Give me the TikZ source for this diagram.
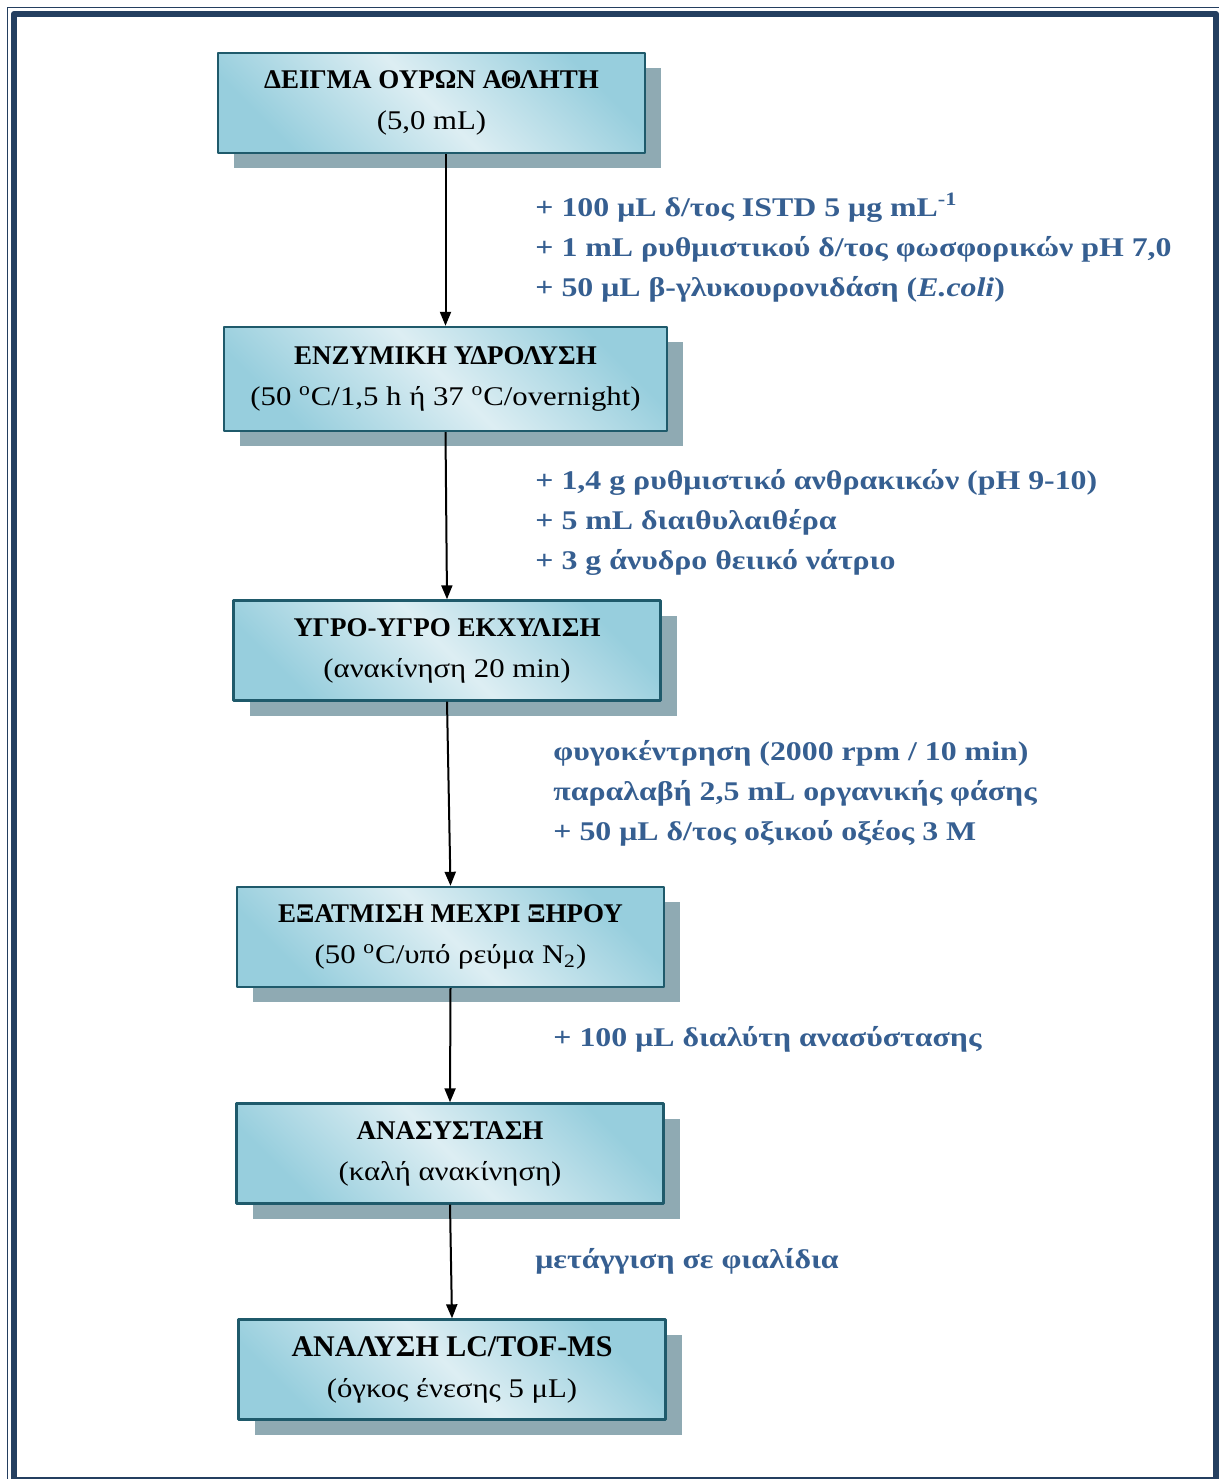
\documentclass[tikz,border=0pt]{standalone}
\usepackage{fontspec}
\setmainfont{Liberation Serif}
\newfontfamily\stepfont[FakeStretch=1.14]{Liberation Serif}
\newfontfamily\notefont[FakeStretch=1.18]{Liberation Serif}
\usetikzlibrary{arrows.meta,shadows}
\definecolor{framebl}{HTML}{243F60}
\definecolor{boxedge}{HTML}{1F5A6B}
\definecolor{boxlight}{HTML}{DDEEF3}
\definecolor{boxdark}{HTML}{97CEDD}
\definecolor{shadowgr}{HTML}{8FAAB3}
\definecolor{noteblue}{HTML}{365F91}
\newcommand{\steptitle}[1]{{\rmfamily\bfseries #1}}
\begin{document}
\begin{tikzpicture}[x=0.5pt, y=-0.5pt, line join=round, >={Triangle[length=7pt,width=5.5pt]},
	stepbox/.style={draw=boxedge, line width=1.2pt, top color=boxdark, bottom color=boxdark, middle color=boxlight, shading angle=-45,
		minimum width=213.5pt, minimum height=50pt, inner sep=0pt, align=center, font=\stepfont\fontsize{13.5}{20.5}\selectfont,
		drop shadow={shadow xshift=8pt, shadow yshift=-7.5pt, fill=shadowgr, opacity=1}},
	addnote/.style={anchor=base west, align=left, inner sep=0pt, text=noteblue, font=\notefont\bfseries\fontsize{13.5}{20}\selectfont}]
	\useasboundingbox (0,0) rectangle (1219,1479);
	% page frame
	\draw[framebl, line width=0.75pt] (7.5,7.5) rectangle (1223,1486);
	\draw[framebl, line width=3pt] (14,14) rectangle (1216,1480);
	% steps
	\node[stepbox] (b1) at (431.5,103) {\steptitle{ΔΕΙΓΜΑ ΟΥΡΩΝ ΑΘΛΗΤΗ}\\(5,0 mL)};
	\node[stepbox, minimum width=221.5pt, minimum height=52pt] (b2) at (445.5,379) {\steptitle{ΕΝΖΥΜΙΚΗ ΥΔΡΟΛΥΣΗ}\\(50 \textsuperscript{o}C/1,5 h ή 37 \textsuperscript{o}C/overnight)};
	\node[stepbox] (b3) at (447,650.5) {\steptitle{ΥΓΡΟ-ΥΓΡΟ ΕΚΧΥΛΙΣΗ}\\(ανακίνηση 20 min)};
	\node[stepbox] (b4) at (450.5,937) {\steptitle{ΕΞΑΤΜΙΣΗ ΜΕΧΡΙ ΞΗΡΟΥ}\\(50 \textsuperscript{o}C/υπό ρεύμα N\textsubscript{2})};
	\node[stepbox] (b5) at (450,1153.5) {\steptitle{ΑΝΑΣΥΣΤΑΣΗ}\\(καλή ανακίνηση)};
	\node[stepbox] (b6) at (452,1369.5) {{\fontsize{15}{21}\selectfont\steptitle{ΑΝΑΛΥΣΗ LC/TOF-MS}}\\(όγκος ένεσης 5 μL)};
	% additions (base = last line)
	\node[addnote] (n1) at (535,296) {+ 100 μL δ/τος ISTD 5 μg mL\textsuperscript{-1}\\+ 1 mL ρυθμιστικού δ/τος φωσφορικών pH 7,0\\+ 50 μL β-γλυκουρονιδάση (\textit{E.coli})};
	\node[addnote] (n2) at (535,569) {+ 1,4 g ρυθμιστικό ανθρακικών (pH 9-10)\\+ 5 mL διαιθυλαιθέρα\\+ 3 g άνυδρο θειικό νάτριο};
	\node[addnote] (n3) at (553,840) {φυγοκέντρηση (2000 rpm / 10 min)\\παραλαβή 2,5 mL οργανικής φάσης\\+ 50 μL δ/τος οξικού οξέος 3 M};
	\node[addnote] (n4) at (553,1046) {+ 100 μL διαλύτη ανασύστασης};
	\node[addnote] (n5) at (535,1268) {μετάγγιση σε φιαλίδια};
	% arrows
	\draw[->, line width=1pt] (b1.south -| b2.north) -- (b2.north);
	\foreach \a/\b in {b2/b3,b3/b4,b4/b5,b5/b6}
		\draw[->, line width=1pt] (\a.south) -- (\b.north);
\end{tikzpicture}
\end{document}
